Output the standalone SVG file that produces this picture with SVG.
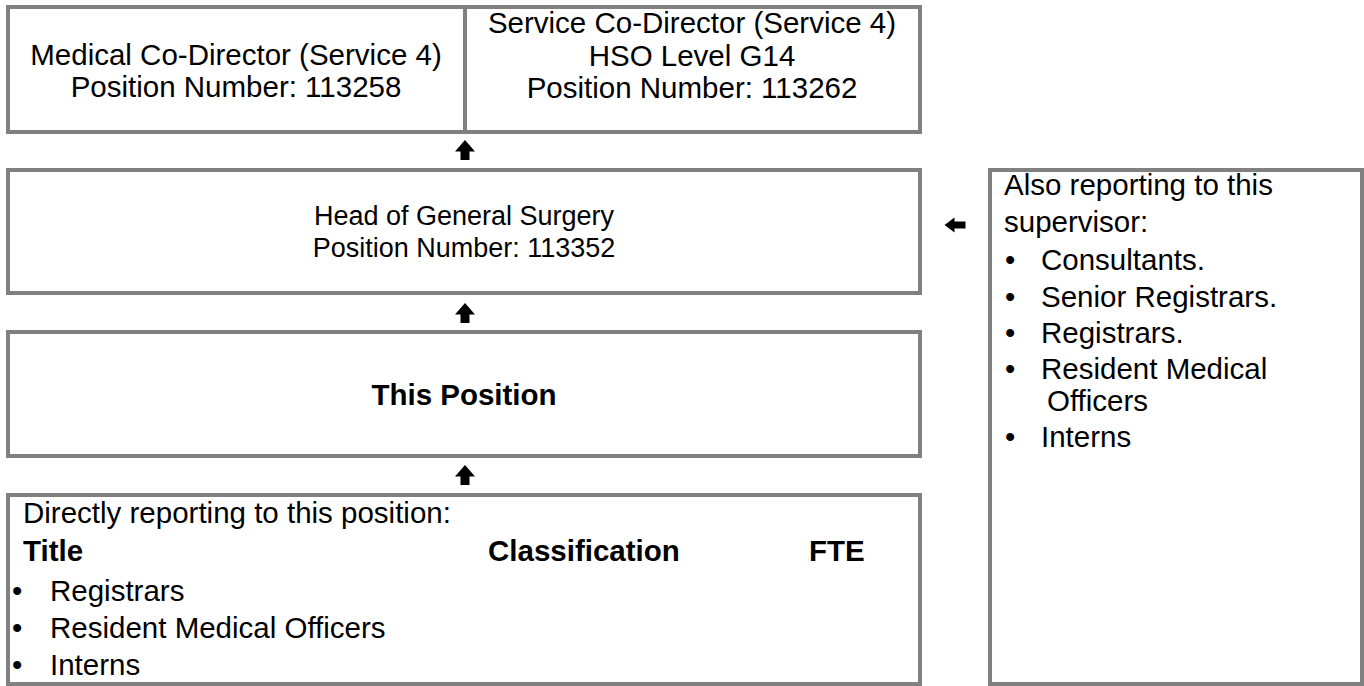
<svg xmlns="http://www.w3.org/2000/svg" width="1364" height="686" viewBox="0 0 1364 686">
  <style>
    .box { fill: #ffffff; stroke: #808080; stroke-width: 4; }
    .t { font-family: "Liberation Sans", Arial, sans-serif; font-size: 29.5px; fill: #000000; }
    .c { text-anchor: middle; }
    .b { font-weight: bold; }
    .s27 { font-size: 27px; }
    .arrow { fill: #000000; }
  </style>
  <defs>
    <path id="upArrow" d="M 0 -10 L 10 1.5 L 4.5 1.5 L 4.5 10 L -4.5 10 L -4.5 1.5 L -10 1.5 Z"/>
    <path id="leftArrow" d="M -10.5 0 L -0.5 -7.5 L -0.5 -3.5 L 10.5 -3.5 L 10.5 3.5 L -0.5 3.5 L -0.5 7.5 Z"/>
  </defs>
  <rect x="0" y="0" width="1364" height="686" fill="#ffffff"/>

  <g id="medical-co-director">
    <rect class="box" x="8" y="7" width="457" height="125"/>
    <text class="t c" x="236" y="65">Medical Co-Director (Service 4)</text>
    <text class="t c" x="236" y="97">Position Number: 113258</text>
  </g>

  <g id="service-co-director">
    <rect class="box" x="465" y="7" width="455" height="125"/>
    <text class="t c" x="692" y="33">Service Co-Director (Service 4)</text>
    <text class="t c" x="692" y="66">HSO Level G14</text>
    <text class="t c" x="692" y="98">Position Number: 113262</text>
  </g>

  <g id="head-of-general-surgery">
    <rect class="box" x="8" y="170" width="912" height="123"/>
    <text class="t c s27" x="464" y="225">Head of General Surgery</text>
    <text class="t c s27" x="464" y="257">Position Number: 113352</text>
  </g>

  <g id="this-position">
    <rect class="box" x="8" y="332" width="912" height="124"/>
    <text class="t c b" x="464" y="405">This Position</text>
  </g>

  <g id="direct-reports">
    <rect class="box" x="8" y="495" width="912" height="189"/>
    <text class="t" x="23" y="523">Directly reporting to this position:</text>
    <text class="t b" x="23" y="561">Title</text>
    <text class="t b" x="488" y="561">Classification</text>
    <text class="t b" x="809" y="561">FTE</text>
    <text class="t" x="12" y="601">•</text>
    <text class="t" x="50" y="601">Registrars</text>
    <text class="t" x="12" y="638">•</text>
    <text class="t" x="50" y="638">Resident Medical Officers</text>
    <text class="t" x="12" y="675">•</text>
    <text class="t" x="50" y="675">Interns</text>
  </g>

  <g id="also-reporting">
    <rect class="box" x="990" y="170" width="372" height="514"/>
    <text class="t" x="1004" y="195">Also reporting to this</text>
    <text class="t" x="1004" y="232">supervisor:</text>
    <text class="t" x="1005" y="270">•</text>
    <text class="t" x="1041" y="270">Consultants.</text>
    <text class="t" x="1005" y="307">•</text>
    <text class="t" x="1041" y="307">Senior Registrars.</text>
    <text class="t" x="1005" y="343">•</text>
    <text class="t" x="1041" y="343">Registrars.</text>
    <text class="t" x="1005" y="379">•</text>
    <text class="t" x="1041" y="379">Resident Medical</text>
    <text class="t" x="1047" y="411">Officers</text>
    <text class="t" x="1005" y="447">•</text>
    <text class="t" x="1041" y="447">Interns</text>
  </g>

  <g id="connectors">
    <use href="#upArrow" class="arrow" x="465" y="150"/>
    <use href="#upArrow" class="arrow" x="465" y="313"/>
    <use href="#upArrow" class="arrow" x="465" y="475"/>
    <use href="#leftArrow" class="arrow" x="955" y="225"/>
  </g>
</svg>
